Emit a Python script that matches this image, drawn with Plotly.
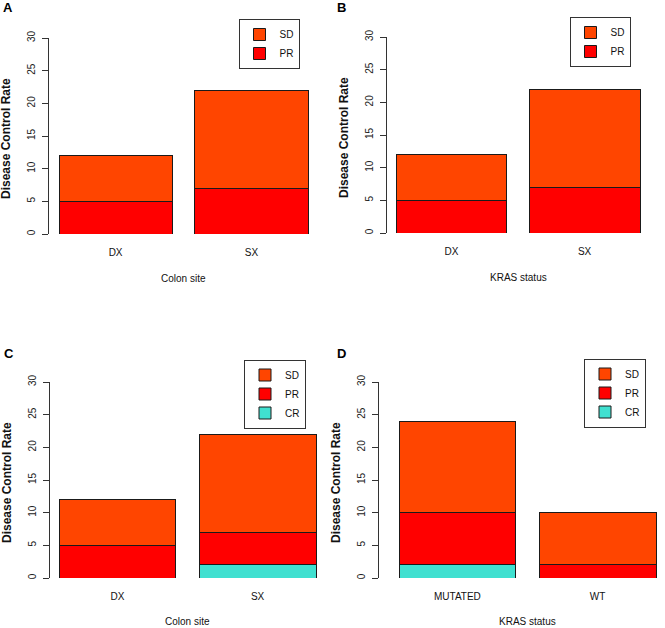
import plotly.graph_objects as go

# ---- data ----
site_categories = ["DX", "SX"]
kras_b_categories = ["DX", "SX"]
kras_d_categories = ["MUTATED", "WT"]

a_pr = [5, 7]
a_sd = [7, 15]

b_pr = [5, 7]
b_sd = [7, 15]

c_cr = [0, 2]
c_pr = [5, 5]
c_sd = [7, 15]

d_cr = [2, 0]
d_pr = [8, 2]
d_sd = [14, 8]

y_ticks = [0, 5, 10, 15, 20, 25, 30]

# ---- style ----
W, H = 665, 628
FONT = "Liberation Sans, Arial, Helvetica, sans-serif"
AXIS = "#333333"
COLORS = {"SD": "#FF4500", "PR": "#FF0000", "CR": "#40E0D0"}
BARGAP = 1 / 6  # R barplot space=0.2


def px_x(v):
    return v / W


def px_y(v):
    return 1 - v / H


def x_range(axis_px, bar_left_px, bar_right_px, right_px):
    half = (1 - BARGAP) / 2
    scale = (bar_right_px - bar_left_px) / (1 + 2 * half)
    return [-half - (bar_left_px - axis_px) / scale,
            1 + half + (right_px - bar_right_px) / scale]


fig = go.Figure()

panels = [
    # name, cats, stacks, axis px, bar left, bar right, right px, y0 px, y30 px,
    # legend centre, x title, letter position
    ("A", site_categories, [("PR", a_pr), ("SD", a_sd)], 49, 59, 308, 318, 234, 38,
     (269, 44), "Colon site", (8, 8)),
    ("B", kras_b_categories, [("PR", b_pr), ("SD", b_sd)], 387, 396, 640, 650, 233, 37,
     (600, 42), "KRAS status", (341, 7)),
    ("C", site_categories, [("CR", c_cr), ("PR", c_pr), ("SD", c_sd)], 50, 59, 316, 326, 578, 382,
     (275, 394), "Colon site", (9, 353)),
    ("D", kras_d_categories, [("CR", d_cr), ("PR", d_pr), ("SD", d_sd)], 379, 399, 656, 665, 578, 382,
     (615, 393), "KRAS status", (341, 353)),
]

layout = dict(
    width=W, height=H,
    margin=dict(l=0, r=0, t=0, b=0, autoexpand=False),
    paper_bgcolor="white", plot_bgcolor="white",
    barmode="stack", bargap=BARGAP,
    font=dict(family=FONT, size=10, color="#111111"),
    showlegend=True,
)
annotations = []

for i, (label, cats, stacks, ax_px, bl, br, rp, y0, y30, leg, xtitle, lab_pos) in enumerate(panels):
    n = "" if i == 0 else str(i + 1)
    xa, ya = "x" + n, "y" + n
    leg_name = "legend" + n
    for name, vals in stacks:
        fig.add_trace(go.Bar(
            x=cats, y=vals, name=name,
            xaxis=xa, yaxis=ya, legend=leg_name,
            marker=dict(color=COLORS[name], line=dict(color="#1a1a1a", width=1)),
            hoverinfo="x+y+name",
        ))

    layout["xaxis" + n] = dict(
        domain=[px_x(ax_px), px_x(rp)], anchor=ya, automargin=False,
        range=x_range(ax_px, bl, br, rp),
        showline=False, showgrid=False, zeroline=False, ticks="",
        ticklabelstandoff=11, tickfont=dict(size=10, color="#111111"),
    )
    layout["yaxis" + n] = dict(
        domain=[px_y(y0), px_y(y30)], anchor=xa, automargin=False,
        range=[0, 30], tickvals=y_ticks, tickangle=-90,
        showline=True, linecolor=AXIS, linewidth=1,
        ticks="outside", ticklen=6, tickcolor=AXIS, tickwidth=1,
        showgrid=False, zeroline=False, ticklabelstandoff=3,
        tickfont=dict(size=10, color="#222222"),
    )
    layout[leg_name] = dict(
        x=px_x(leg[0]), y=px_y(leg[1]), xanchor="center", yanchor="middle",
        xref="paper", yref="paper",
        bordercolor=AXIS, borderwidth=1, bgcolor="white",
        traceorder="reversed", font=dict(size=10, color="#111111"),
        itemwidth=30, tracegroupgap=0,
    )

    # panel letter
    annotations.append(dict(
        text="<b>%s</b>" % label, x=px_x(lab_pos[0]), y=px_y(lab_pos[1]),
        xref="paper", yref="paper", showarrow=False,
        xanchor="center", yanchor="middle",
        font=dict(size=13, color="#000000"),
    ))
    # y title
    annotations.append(dict(
        text="<b>Disease Control Rate</b>",
        x=px_x(ax_px - 43), y=px_y((y0 + y30) / 2 + 3),
        xref="paper", yref="paper", showarrow=False, textangle=-90,
        xanchor="center", yanchor="middle",
        font=dict(size=12, color="#111111"),
    ))
    # x title
    annotations.append(dict(
        text=xtitle,
        x=px_x((bl + br) / 2), y=px_y(min(y0 + 44, 621)),
        xref="paper", yref="paper", showarrow=False,
        xanchor="center", yanchor="middle",
        font=dict(size=10, color="#111111"),
    ))

layout["annotations"] = annotations
fig.update_layout(**layout)

# page body has a default 8px margin; drop it so the figure sits at the corner
fig.write_html("out.html", config={"displayModeBar": False},
               post_script="document.body.style.margin = '0';")
